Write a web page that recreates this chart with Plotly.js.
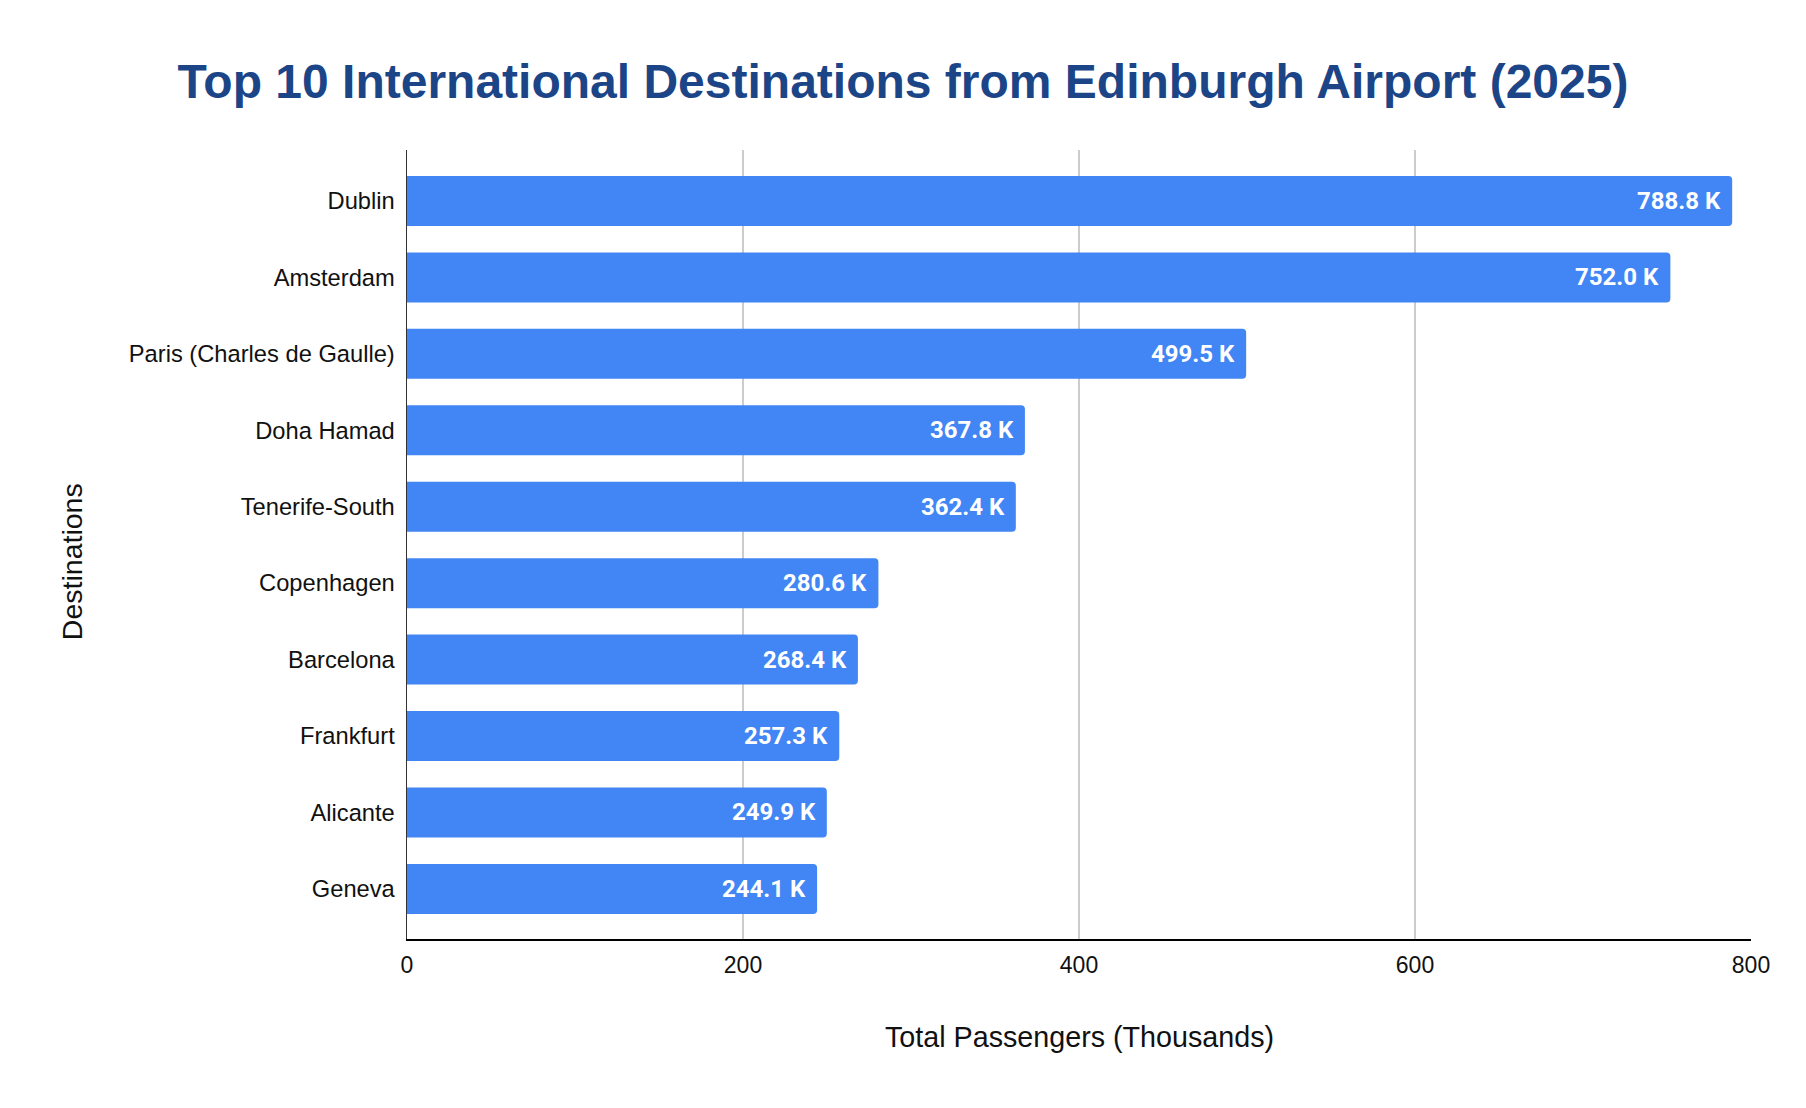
<!DOCTYPE html>
<html>
<head>
<meta charset="utf-8">
<script src="https://cdn.plot.ly/plotly-3.0.1.min.js"></script>
<style>
  html, body { margin: 0; padding: 0; background: #ffffff; }
  #chart { width: 1806px; height: 1108px; }
</style>
</head>
<body>
<div id="chart"></div>
<script>
// ---- Data ----
const destinations = [
  "Dublin",
  "Amsterdam",
  "Paris (Charles de Gaulle)",
  "Doha Hamad",
  "Tenerife-South",
  "Copenhagen",
  "Barcelona",
  "Frankfurt",
  "Alicante",
  "Geneva"
];
const passengersThousands = [788.8, 752.0, 499.5, 367.8, 362.4, 280.6, 268.4, 257.3, 249.9, 244.1];
const xTickValues = [0, 200, 400, 600, 800];
const xTickLabels = ["0", "200", "400", "600", "800"];
const chartTitle = "Top 10 International Destinations from Edinburgh Airport (2025)";
const xAxisTitle = "Total Passengers (Thousands)";
const yAxisTitle = "Destinations";

const labelTexts = passengersThousands.map(v => v.toFixed(1) + " K");

const baseFont = "Liberation Sans, Arial, Helvetica, sans-serif";

const trace = {
  type: "bar",
  orientation: "h",
  x: passengersThousands,
  y: destinations,
  marker: { color: "#4285f4", line: { width: 0 } },
  hoverinfo: "x+y"
};

const valueAnnotations = passengersThousands.map((v, i) => ({
  x: v,
  y: destinations[i],
  xref: "x",
  yref: "y",
  text: labelTexts[i],
  showarrow: false,
  xanchor: "right",
  yanchor: "middle",
  xshift: -9,
  font: { family: "Roboto, sans-serif", size: 24, color: "#ffffff", weight: 700 }
}));

const layout = {
  width: 1806,
  height: 1108,
  paper_bgcolor: "#ffffff",
  plot_bgcolor: "#ffffff",
  margin: { l: 407, r: 55, t: 150, b: 169, pad: 0 },
  showlegend: false,
  bargap: 0.346,
  barcornerradius: 4,
  title: {
    text: "<b>" + chartTitle + "</b>",
    font: { family: baseFont, size: 48, color: "#1c4587" },
    x: 0.5,
    xref: "container",
    xanchor: "center",
    y: 1 - 81 / 1108,
    yref: "container",
    yanchor: "middle"
  },
  xaxis: {
    range: [0, 800],
    tickmode: "array",
    tickvals: xTickValues,
    ticktext: xTickLabels,
    showgrid: true,
    gridcolor: "#cccccc",
    gridwidth: 1.3,
    zeroline: false,
    showline: true,
    linecolor: "#000000",
    linewidth: 2,
    ticks: "",
    ticklabelstandoff: 4,
    tickfont: { family: baseFont, size: 23, color: "#111111" },
    fixedrange: true
  },
  yaxis: {
    type: "category",
    range: [9.655, -0.667],
    showgrid: false,
    zeroline: false,
    showline: true,
    linecolor: "#333333",
    linewidth: 1.5,
    ticks: "",
    ticklabelstandoff: 6,
    tickfont: { family: baseFont, size: 23.7, color: "#111111" },
    fixedrange: true
  },
  annotations: valueAnnotations.concat([
    {
      text: xAxisTitle,
      xref: "paper", yref: "paper",
      x: 0.5, y: (938.7 - 1036.3) / 788.7,
      xanchor: "center", yanchor: "middle",
      showarrow: false,
      font: { family: baseFont, size: 28.7, color: "#111111" }
    },
    {
      text: yAxisTitle,
      xref: "paper", yref: "paper",
      x: (72 - 407) / 1344, y: (938.7 - 562) / 788.7,
      xanchor: "center", yanchor: "middle",
      textangle: -90,
      showarrow: false,
      font: { family: baseFont, size: 28.5, color: "#111111" }
    }
  ])
};

Plotly.newPlot("chart", [trace], layout, { displayModeBar: false, staticPlot: true });
</script>
</body>
</html>
